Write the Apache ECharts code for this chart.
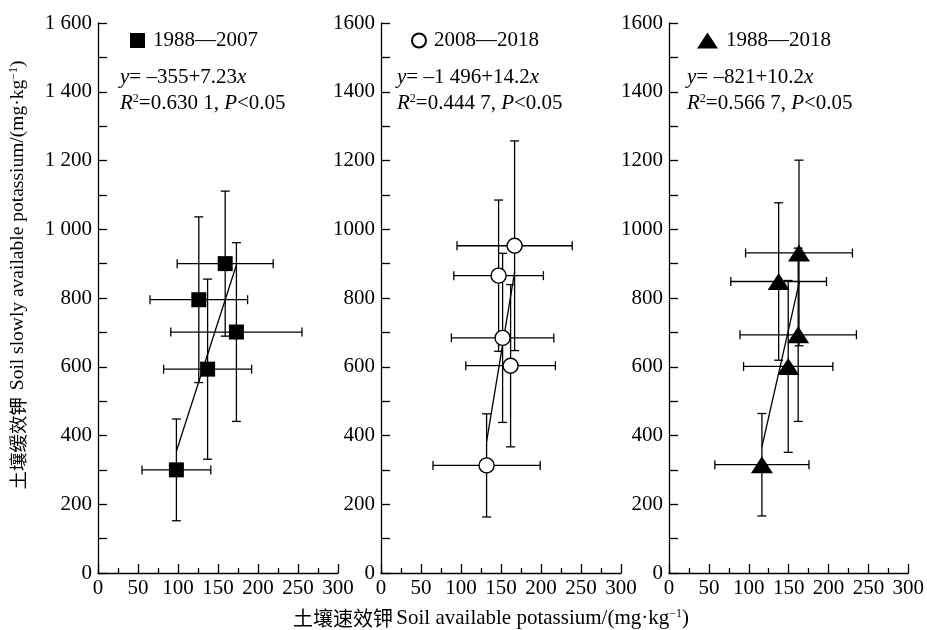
<!DOCTYPE html>
<html><head><meta charset="utf-8">
<script src="https://cdn.jsdelivr.net/npm/echarts@6/dist/echarts.min.js"></script>
<style>html,body{margin:0;padding:0;background:#fff}#c{width:927px;height:630px}</style>
</head><body><div id="c"></div>
<script>
// ---- data ----
const seriesNames = ['1988\u20142007', '2008\u20142018', '1988\u20142018'];
// panel 1 (1988-2007)
const p1x  = [159, 126, 137, 173, 98];
const p1y  = [900, 795, 593, 701, 300];
const p1xe = [60, 61, 55, 82, 43];
const p1ye = [211, 241, 262, 260, 148];
const fit1 = [[98, 354], [173, 896]];
// panel 2 (2008-2018)
const p2x  = [167, 147, 152, 162, 132];
const p2y  = [952, 865, 684, 603, 313];
const p2xe = [72, 56, 64, 56, 67];
const p2ye = [305, 220, 246, 236, 150];
const fit2 = [[132, 382], [167, 875]];
// panel 3 (1988-2018)
const p3x  = [163, 137.5, 162, 149.5, 116.5];
const p3y  = [931, 848, 693, 601, 315];
const p3xe = [67, 60, 73, 56, 59];
const p3ye = [270, 229, 252, 250, 149];
const fit3 = [[116.5, 367], [163.4, 846]];
// tick labels
const xTicks = [0, 50, 100, 150, 200, 250, 300];
const yTicks1 = {0:'0',200:'200',400:'400',600:'600',800:'800',1000:'1 000',1200:'1 200',1400:'1 400',1600:'1 600'};
const yTicks23 = {0:'0',200:'200',400:'400',600:'600',800:'800',1000:'1000',1200:'1200',1400:'1400',1600:'1600'};
const equations = [
  ['{i|y}= \u2013355+7.23{i|x}', '{i|R}{s|2}=0.630 1, {i|P}<0.05'],
  ['{i|y}= \u20131 496+14.2{i|x}', '{i|R}{s|2}=0.444 7, {i|P}<0.05'],
  ['{i|y}= \u2013821+10.2{i|x}', '{i|R}{s|2}=0.566 7, {i|P}<0.05']
];

// ---- chart ----
const SERIF = 'Liberation Serif';
const FS = 21;
const chart = echarts.init(document.getElementById('c'), null, {renderer:'canvas'});
const grids = [
  {left: 98, top: 23, width: 240, height: 550},
  {left: 381, top: 23, width: 240, height: 550},
  {left: 669, top: 23, width: 240, height: 550}
];
const axisLineStyle = {color:'#000', width:1.3};
function xAxis(i){
  return {type:'value', gridIndex:i, min:0, max:300, interval:50,
    axisLine:{show:true, onZero:false, lineStyle:axisLineStyle},
    axisTick:{show:true, inside:true, length:9, lineStyle:axisLineStyle},
    minorTick:{show:true, splitNumber:2, length:5, lineStyle:axisLineStyle},
    splitLine:{show:false},
    axisLabel:{color:'#000', fontFamily:SERIF, fontSize:FS, margin:5,
      formatter: v => xTicks.includes(v) ? String(v) : ''}};
}
function yAxis(i, map){
  return {type:'value', gridIndex:i, min:0, max:1600, interval:200,
    axisLine:{show:true, onZero:false, lineStyle:axisLineStyle},
    axisTick:{show:true, inside:true, length:9, lineStyle:axisLineStyle},
    minorTick:{show:true, splitNumber:2, length:9, lineStyle:axisLineStyle},
    splitLine:{show:false},
    axisLabel:{color:'#000', fontFamily:SERIF, fontSize:FS, margin:6,
      formatter: v => map[v] !== undefined ? map[v] : ''}};
}
function errData(xs, ys, xe, ye){ return xs.map((x,k)=>[x, ys[k], xe[k], ye[k]]); }
function errSeries(i, data){
  return {type:'custom', xAxisIndex:i, yAxisIndex:i, z:2, silent:true,
    data: data, encode:{x:0, y:1},
    renderItem: function(params, api){
      const x=api.value(0), y=api.value(1), xe=api.value(2), ye=api.value(3);
      const l=api.coord([x-xe,y]), r=api.coord([x+xe,y]);
      const t=api.coord([x,y+ye]), b=api.coord([x,y-ye]);
      const c=4.5;
      const st={stroke:'#000', lineWidth:1.3};
      const L=(x1,y1,x2,y2)=>({type:'line', shape:{x1,y1,x2,y2}, style:st});
      return {type:'group', children:[
        L(l[0],l[1],r[0],r[1]), L(t[0],t[1],b[0],b[1]),
        L(l[0],l[1]-c,l[0],l[1]+c), L(r[0],r[1]-c,r[0],r[1]+c),
        L(t[0]-c,t[1],t[0]+c,t[1]), L(b[0]-c,b[1],b[0]+c,b[1])
      ]};
    }};
}
function fitSeries(i, data){
  return {type:'line', xAxisIndex:i, yAxisIndex:i, data:data, symbol:'none', z:3,
    lineStyle:{color:'#000', width:1.3}, silent:true};
}
function ptsSeries(i, name, xs, ys, symbol, size, itemStyle){
  return {type:'scatter', name:name, xAxisIndex:i, yAxisIndex:i, z:5,
    data: xs.map((x,k)=>[x, ys[k]]), symbol:symbol, symbolSize:size,
    itemStyle:itemStyle, silent:true};
}
const blackFill = {color:'#000', borderColor:'#000', borderWidth:0, opacity:1};
const whiteCirc = {color:'#fff', borderColor:'#000', borderWidth:1.4, opacity:1};

function legend(i, left, name, w, h){
  return {show:true, data:[name], left:left, top:30, itemWidth:w, itemHeight:h, padding:0,
    selectedMode:false, textStyle:{color:'#000', fontFamily:SERIF, fontSize:FS, padding:[0,0,0,3]}};
}
function eqText(left, line, text){
  return {type:'text', left:left, top: line===0 ? 67 : 93,
    style:{text:text, fill:'#000', font:FS+'px "Liberation Serif"',
      rich:{i:{fontStyle:'italic', fontFamily:SERIF, fontSize:FS, fill:'#000'},
            s:{fontSize:12, fontFamily:SERIF, fill:'#000', verticalAlign:'top', padding:[0,0,9,0]}}}};
}

const option = {
  animation:false,
  backgroundColor:'#fff',
  grid: grids,
  xAxis: [xAxis(0), xAxis(1), xAxis(2)],
  yAxis: [yAxis(0, yTicks1), yAxis(1, yTicks23), yAxis(2, yTicks23)],
  legend: [
    legend(0, 130, seriesNames[0], 15, 15),
    legend(1, 411, seriesNames[1], 14, 14),
    legend(2, 697, seriesNames[2], 21, 16)
  ],
  series: [
    errSeries(0, errData(p1x,p1y,p1xe,p1ye)), fitSeries(0, fit1),
    ptsSeries(0, seriesNames[0], p1x, p1y, 'rect', 15, blackFill),
    errSeries(1, errData(p2x,p2y,p2xe,p2ye)), fitSeries(1, fit2),
    ptsSeries(1, seriesNames[1], p2x, p2y, 'circle', 15, whiteCirc),
    errSeries(2, errData(p3x,p3y,p3xe,p3ye)), fitSeries(2, fit3),
    ptsSeries(2, seriesNames[2], p3x, p3y, 'triangle', [22,17], blackFill)
  ],
  graphic: [
    eqText(120, 0, equations[0][0]), eqText(120, 1, equations[0][1]),
    eqText(397, 0, equations[1][0]), eqText(397, 1, equations[1][1]),
    eqText(687, 0, equations[2][0]), eqText(687, 1, equations[2][1]),
    {type:'text', x:491, y:618,
      style:{text:'{c|土壤速效钾} {e|Soil available potassium/(mg·kg}{s|\u22121}{e|)}',
        align:'center', verticalAlign:'middle', fill:'#000',
        rich:{c:{fontFamily:'Noto Sans CJK SC', fontSize:20, fill:'#000'},
              e:{fontFamily:SERIF, fontSize:FS, fill:'#000'},
              s:{fontFamily:SERIF, fontSize:12, fill:'#000', verticalAlign:'top', padding:[0,0,9,0]}}}},
    {type:'text', x:18, y:275, rotation:Math.PI/2,
      style:{text:'{c|土壤缓效钾}  {e|Soil slowly available potassium/(mg·kg}{s|\u22121}{e|)}',
        align:'center', verticalAlign:'middle', fill:'#000',
        rich:{c:{fontFamily:'Noto Sans CJK SC', fontSize:18.5, fill:'#000'},
              e:{fontFamily:SERIF, fontSize:19.5, fill:'#000'},
              s:{fontFamily:SERIF, fontSize:12, fill:'#000', verticalAlign:'top', padding:[0,0,9,0]}}}}
  ]
};
chart.setOption(option);
</script></body></html>
